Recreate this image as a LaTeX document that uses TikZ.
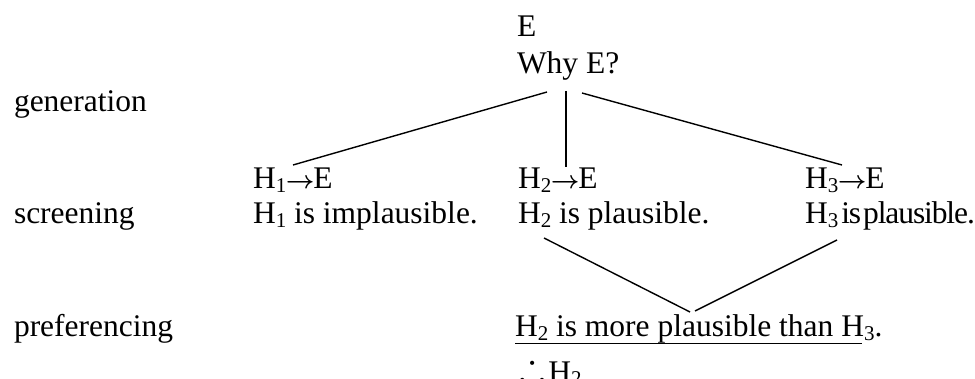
\documentclass[tikz,border=0pt]{standalone}
\usepackage{fontspec}
\setmainfont{Liberation Serif}
\usepackage{amssymb}
\newcommand\sbs[1]{\raisebox{-3.5pt}{\fontsize{21}{21}\selectfont #1}}
\newcommand\myarr{\hspace{-0.5pt}{\boldmath$\rightarrow$}\hspace{-1pt}}
\begin{document}
\begin{tikzpicture}[x=1pt,y=-1pt,
  txt/.style={anchor=base west,inner sep=0pt,outer sep=0pt,font=\fontsize{31.5}{37}\selectfont},
  conn/.style={line width=1.4pt}]
\useasboundingbox (0,0) rectangle (975,379);
% texts
\node[txt] (e) at (517,36.7) {E};
\node[txt] (why) at (517,74) {Why E?};
\node[txt] (gen) at (14,111.7) {generation};
\node[txt] (h1e) at (253,189) {H\sbs{1}\myarr E};
\node[txt] (h2e) at (518,189) {H\sbs{2}\myarr E};
\node[txt] (h3e) at (805,189) {H\sbs{3}\myarr E};
\node[txt] (scr) at (14,224) {screening};
\node[txt] (h1p) at (253,224) {H\sbs{1} is implausible.};
\node[txt] (h2p) at (518,224) {H\sbs{2} is plausible.};
\node[txt] (h3p) at (805,224) {\addfontfeature{LetterSpace=-3.5}H\sbs{3}\hspace{3pt}is\hspace{2pt}plausible.};
\node[txt] (pref) at (14,336.7) {preferencing};
\node[txt] (more) at (515,336.7) {H\sbs{2} is more plausible than H\sbs{3}.};
\node[txt] (ther) at (519,382) {\raisebox{2pt}{\scalebox{1.25}{$\therefore$}}\hspace{3pt}H\sbs{2}};
% connector end points
\coordinate (w1) at (547,92);
\coordinate (w2) at (566,91);
\coordinate (w3) at (582,93);
\coordinate (a1) at (293,165);
\coordinate (a2) at (566,167);
\coordinate (a3) at (842,165);
\coordinate (p2) at (544,238);
\coordinate (p3) at (837,240);
\coordinate (v1) at (690,312);
\coordinate (v2) at (695,311);
\coordinate (ul1) at (515,343.5);
\coordinate (ul2) at (862,343.5);
\draw[conn] (w1) -- (a1);
\draw[conn] (w2) -- (a2);
\draw[conn] (w3) -- (a3);
\draw[conn] (p2) -- (v1);
\draw[conn] (p3) -- (v2);
\draw[line width=1.6pt] (ul1) -- (ul2);
\end{tikzpicture}
\end{document}
